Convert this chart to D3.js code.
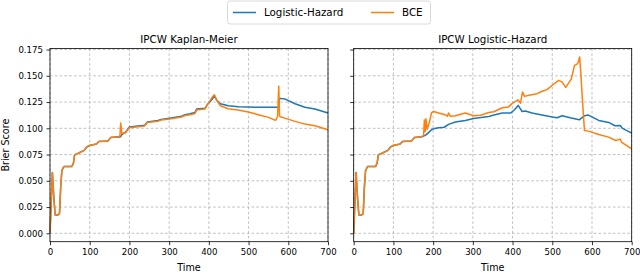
<!DOCTYPE html>
<html><head><meta charset="utf-8">
<script src="https://cdn.jsdelivr.net/npm/d3@7"></script>
<style>
html,body{margin:0;padding:0;background:#fff;}
svg{display:block;font-family:"DejaVu Sans",sans-serif;}
</style></head>
<body><svg id="chart" width="640" height="274"></svg>
<script>
const seriesNames = ["Logistic-Hazard", "BCE"];
const seriesColors = ["#1f77b4", "#ff7f0e"];
const panelTitles = ["IPCW Kaplan-Meier", "IPCW Logistic-Hazard"];
const xTicks = [0, 100, 200, 300, 400, 500, 600, 700];
const yTicks = [0, 0.025, 0.05, 0.075, 0.1, 0.125, 0.15, 0.175];

// Left panel (IPCW Kaplan-Meier): shared time grid
const kmTime = [0,6,10,13,20,24,27,30,35,55,59,62,70,86,92,100,117,123,146,153,171,176,178,181,190,200,238,245,272,280,301,331,340,353,365,369,390,397,409,414,420,429,449,474,499,524,550,568,573,576,578,580,591,617,642,667,700];
const kmLogHaz = [0,.058,.032,.0175,.0175,.019,.0445,.060,.0636,.0636,.0668,.0747,.076,.079,.082,.0836,.085,.0875,.088,.0913,.092,.0916,.092,.094,.0963,.1012,.1028,.106,.1074,.1085,.1095,.1115,.113,.1139,.1151,.1183,.119,.123,.128,.131,.1266,.1234,.1215,.1205,.1202,.120,.120,.120,.120,.120,.1285,.1285,.128,.1234,.120,.1183,.1145];
const kmBCE = [0,.058,.032,.0175,.0175,.019,.0445,.060,.0636,.0636,.0668,.0747,.076,.079,.082,.0836,.085,.0875,.088,.0913,.092,.0925,.105,.095,.0958,.1005,.1022,.1055,.1068,.1078,.1088,.1108,.1122,.1128,.114,.1174,.1183,.123,.130,.132,.1266,.1215,.1186,.1174,.1155,.113,.1104,.1075,.111,.140,.112,.111,.1097,.1066,.104,.1024,.0986];

// Right panel (IPCW Logistic-Hazard)
const lhTimeLogHaz = [0,6,10,13,20,24,27,30,35,55,59,62,70,86,92,100,117,123,146,153,171,176,181,187,196,201,214,228,239,256,281,302,340,353,374,395,405,414,424,432,449,474,500,512,525,545,568,581,591,617,642,658,671,677,700];
const lhLogHaz = [0,.058,.032,.0175,.0175,.019,.0445,.060,.0636,.0636,.0668,.0747,.076,.079,.082,.0836,.085,.0875,.088,.0913,.092,.0925,.0935,.0954,.0986,.0995,.1005,.101,.1037,.106,.1075,.1094,.1113,.1126,.1145,.1145,.1177,.1218,.116,.1164,.1145,.1126,.1107,.110,.112,.110,.1081,.112,.1126,.1075,.1056,.1024,.1027,.0999,.0954];
const lhTimeBCE = [0,6,10,13,20,24,27,30,35,55,59,62,70,86,92,100,117,123,146,153,171,176,178,180,182,185,190,196,201,214,230,236,239,243,256,281,302,320,340,353,374,389,400,414,420,425,430,441,462,473,487,500,516,525,534,548,556,564,569,572,576,581,591,617,642,660,671,675,700];
const lhBCE = [0,.058,.032,.0175,.0175,.019,.0445,.060,.0636,.0636,.0668,.0747,.076,.079,.082,.0836,.085,.0875,.088,.0913,.092,.093,.108,.097,.109,.099,.105,.115,.116,.1145,.113,.1115,.1145,.1115,.112,.1145,.112,.1125,.115,.1158,.1196,.1202,.124,.127,.124,.1345,.1304,.1314,.133,.135,.1368,.141,.1457,.144,.139,.147,.160,.1616,.168,.152,.1266,.098,.0973,.0941,.0916,.0884,.0897,.0865,.0804];

const panels = [
  {title: panelTitles[0], series: [{t: kmTime, v: kmLogHaz}, {t: kmTime, v: kmBCE}], left: 50, yLabels: true},
  {title: panelTitles[1], series: [{t: lhTimeLogHaz, v: lhLogHaz}, {t: lhTimeBCE, v: lhBCE}], left: 353.7, yLabels: false}
];

const svg = d3.select("#chart");
const W = 278, topY = 48.5, bottomY = 241.7;
const y = d3.scaleLinear().domain([-0.008, 0.176]).range([bottomY, topY]);

panels.forEach(p => {
  const x = d3.scaleLinear().domain([0, 700]).range([p.left, p.left + W]);
  const g = svg.append("g");
  // grid
  g.append("g").selectAll("line").data(xTicks).join("line")
    .attr("x1", d => x(d)).attr("x2", d => x(d)).attr("y1", topY).attr("y2", bottomY)
    .attr("stroke", "#b0b0b0").attr("stroke-width", 0.8).attr("stroke-dasharray", "2.6,2.2");
  g.append("g").selectAll("line").data(yTicks).join("line")
    .attr("y1", d => y(d)).attr("y2", d => y(d)).attr("x1", p.left).attr("x2", p.left + W)
    .attr("stroke", "#b0b0b0").attr("stroke-width", 0.8).attr("stroke-dasharray", "2.6,2.2");
  // lines
  p.series.forEach((s, i) => {
    const pts = s.t.map((t, k) => [t, s.v[k]]);
    g.append("path").datum(pts)
      .attr("fill", "none").attr("stroke", seriesColors[i]).attr("stroke-width", 1.5)
      .attr("stroke-linejoin", "round")
      .attr("d", d3.line().x(d => x(d[0])).y(d => y(d[1])));
  });
  // axes
  const xAxis = d3.axisBottom(x).tickValues(xTicks).tickFormat(d3.format("d")).tickSize(3.5).tickPadding(3.5);
  const gx = g.append("g").attr("transform", `translate(0,${bottomY})`).call(xAxis);
  const yAxis = d3.axisLeft(y).tickValues(yTicks).tickSize(3.5).tickPadding(3.5)
    .tickFormat(p.yLabels ? d3.format(".3f") : () => "");
  const gy = g.append("g").attr("transform", `translate(${p.left},0)`).call(yAxis);
  [gx, gy].forEach(a => {
    a.select(".domain").remove();
    a.selectAll(".tick line").attr("stroke", "#000").attr("stroke-width", 0.8);
    a.selectAll(".tick text").attr("fill", "#000").attr("font-size", 8.6).attr("font-family", "DejaVu Sans");
  });
  // frame
  g.append("rect").attr("x", p.left).attr("y", topY).attr("width", W).attr("height", bottomY - topY)
    .attr("fill", "none").attr("stroke", "#000").attr("stroke-width", 0.8);
  // title
  g.append("text").attr("x", p.left + W / 2).attr("y", 43).attr("text-anchor", "middle")
    .attr("font-size", 10.3).attr("fill", "#000").text(p.title);
  // x label
  g.append("text").attr("x", p.left + W / 2).attr("y", 271).attr("text-anchor", "middle")
    .attr("font-size", 9.6).attr("fill", "#000").text("Time");
});

// y label
svg.append("text").attr("transform", `translate(8.5,${(topY + bottomY) / 2}) rotate(-90)`)
  .attr("text-anchor", "middle").attr("font-size", 9.6).attr("fill", "#000").text("Brier Score");

// legend
const lg = svg.append("g");
lg.append("rect").attr("x", 227.5).attr("y", 1).attr("width", 203).attr("height", 23).attr("rx", 2.5)
  .attr("fill", "#fff").attr("stroke", "#d0d0d0").attr("stroke-width", 0.8);
const legendX = [233, 371];
seriesNames.forEach((n, i) => {
  lg.append("line").attr("x1", legendX[i]).attr("x2", legendX[i] + 23).attr("y1", 12.5).attr("y2", 12.5)
    .attr("stroke", seriesColors[i]).attr("stroke-width", 1.5);
  lg.append("text").attr("x", legendX[i] + 31).attr("y", 16.3).attr("font-size", 10.3).attr("fill", "#000").text(n);
});
</script></body></html>
